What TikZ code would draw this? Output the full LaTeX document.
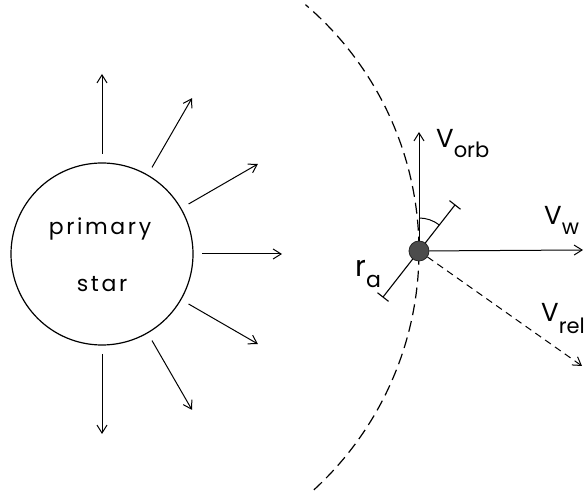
\documentclass[tikz,border=0pt]{standalone}
\usepackage{fontspec}
\setmainfont{Poppins}
\usetikzlibrary{arrows.meta,calc}
\newcommand{\vlab}[2][-10pt]{\fontsize{26}{28}\selectfont V\raisebox{#1}{\fontsize{21}{22}\selectfont #2}}
\tikzset{
  wind/.style={line width=1pt,-{Straight Barb[length=8pt,width=10pt,line width=1pt]}},
  vec/.style={line width=1pt,-{Straight Barb[length=8pt,width=10pt,line width=1pt]}},
  relvec/.style={line width=1pt,dash pattern=on 7pt off 5pt,-{Straight Barb[length=8pt,width=10pt,line width=1pt]}},
  orbit/.style={line width=1.2pt,dash pattern=on 11pt off 6pt},
  rabar/.style={line width=1.1pt,{Bar[width=14pt,line width=1.1pt]}-{Bar[width=14pt,line width=1.1pt]}},
  lbl/.style={inner sep=0pt,anchor=base west},
}
\begin{document}
\begin{tikzpicture}[x=1pt,y=1pt]
\useasboundingbox (0,0) rectangle (587,495);
% primary star
\node[draw,circle,minimum size=182pt,line width=1.2pt,inner sep=0pt] (star) at (102,241) {};
\node[inner sep=0pt,anchor=base] (t1) at (100,260) {\fontsize{22}{26}\selectfont\addfontfeature{LetterSpace=12}primary};
\node[inner sep=0pt,anchor=base] (t2) at (102,203) {\fontsize{22}{26}\selectfont\addfontfeature{LetterSpace=12}star};
\foreach \a in {90,60,30,0,-30,-60,-90}
  \draw[wind] ($(star.center)+(\a:100pt)$) -- ($(star.center)+(\a:180pt)$);
% orbit
\coordinate (cm) at (95,244);
\draw[orbit] ([shift={(-47.5:324pt)}]cm) arc[start angle=-47.5,end angle=49.5,radius=324pt];
% accretor
\coordinate (accc) at (419,244);
\draw[rabar] ($(accc)+(232:59pt)$) -- ($(accc)+(52:59pt)$);
\draw[line width=1pt] ($(accc)+(90:33pt)$) arc[start angle=90,end angle=52,radius=33pt];
\coordinate (orbtip) at (419,363);
\coordinate (wtip) at (583,245);
\coordinate (reltip) at (582,129);
\node[circle,minimum size=20pt,inner sep=0pt,fill=black!70,draw=black!85,line width=0.8pt] (acc) at (accc) {};
\draw[vec] (acc) -- (orbtip);
\draw[vec] (acc) -- (wtip);
\draw[relvec] (acc) -- (reltip);
% labels
\node[lbl] (lorb) at (436,347) {\vlab{orb}};
\node[lbl] (lw) at (544,270) {\vlab{w}};
\node[lbl] (lrel) at (541,173) {\vlab[-12pt]{rel}};
\node[lbl] (lra) at (355,218) {\fontsize{29}{30}\selectfont r\raisebox{-11pt}{\fontsize{22}{22}\selectfont a}};
\end{tikzpicture}
\end{document}
